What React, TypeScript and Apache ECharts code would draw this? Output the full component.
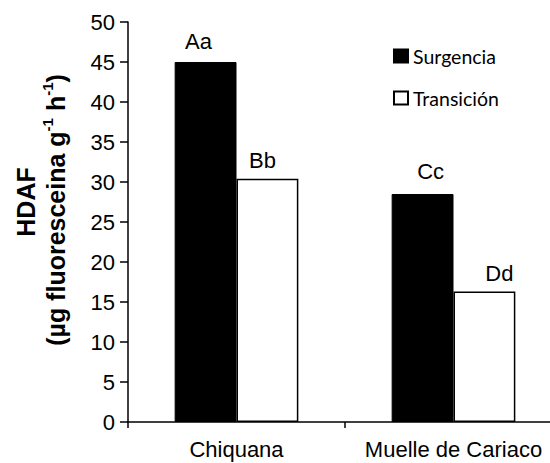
import React, { useEffect, useRef } from "react";
import * as echarts from "echarts";

const categories = ["Chiquana", "Muelle de Cariaco"];
const surgencia = [45, 28.5];
const transicion = [30.4, 16.3];
const surgenciaLabels = ["Aa", "Cc"];
const transicionLabels = ["Bb", "Dd"];
const yTicks = { min: 0, max: 50, interval: 5 };

export default function App() {
  const ref = useRef<HTMLDivElement>(null);
  useEffect(() => {
    if (!ref.current) return;
    const chart = echarts.init(ref.current, null, { renderer: "svg" });
    const labelFont = { fontFamily: "Liberation Sans", fontSize: 22, color: "#000" };
    const sOff = [[-7, -5], [8, -6.5]];
    const tOff = [[-5, -2.3], [15, -2]];
    chart.setOption({
      animation: false,
      grid: { left: 128, top: 22, bottom: 41, right: -12, outerBoundsMode: "none", containLabel: false },
      legend: {
        orient: "vertical",
        left: 393,
        top: 46,
        padding: 0,
        itemWidth: 14,
        itemHeight: 13,
        itemGap: 22,
        icon: "rect",
        textStyle: { fontFamily: "Lato", fontSize: 19.5, color: "#000", lineHeight: 18 },
        data: ["Surgencia", "Transición"],
      },
      xAxis: {
        type: "category",
        data: categories,
        axisLine: { lineStyle: { color: "#000", width: 1.5 } },
        axisTick: { show: true, interval: 0, length: 6, lineStyle: { color: "#000", width: 1.5 } },
        axisLabel: { ...labelFont, interval: 0, hideOverlap: false, margin: 16 },
      },
      yAxis: {
        type: "value",
        min: yTicks.min,
        max: yTicks.max,
        interval: yTicks.interval,
        splitLine: { show: false },
        axisLine: { show: true, lineStyle: { color: "#000", width: 1.5 } },
        axisTick: { show: true, length: 8, lineStyle: { color: "#000", width: 1.5 } },
        axisLabel: { ...labelFont, margin: 13 },
      },
      series: [
        {
          name: "Surgencia",
          type: "bar",
          barGap: "0%",
          barCategoryGap: "43%",
          itemStyle: { color: "#000", borderColor: "#000", borderWidth: 1 },
          data: surgencia.map((v, i) => ({
            value: v,
            label: { show: true, position: "top", distance: 5, formatter: surgenciaLabels[i], offset: sOff[i], ...labelFont },
          })),
        },
        {
          name: "Transición",
          type: "bar",
          itemStyle: { color: "#fff", borderColor: "#000", borderWidth: 1.5 },
          data: transicion.map((v, i) => ({
            value: v,
            label: { show: true, position: "top", distance: 5, formatter: transicionLabels[i], offset: tOff[i], ...labelFont },
          })),
        },
      ],
      graphic: [
        {
          type: "text",
          x: 26,
          y: 202,
          rotation: Math.PI / 2,
          style: {
            text: "HDAF",
            fontFamily: "Liberation Sans",
            fontWeight: "bold",
            fontSize: 25,
            fill: "#000",
            align: "center",
            verticalAlign: "middle",
          },
        },
        {
          type: "text",
          x: 54,
          y: 210,
          rotation: Math.PI / 2,
          style: {
            text: "{b|(µg fluoresceina g}{s|-1}{b| h}{s|-1}{b|)}",
            align: "center",
            verticalAlign: "middle",
            fill: "#000",
            rich: {
              b: { fontFamily: "Liberation Sans", fontWeight: "bold", fontSize: 25, lineHeight: 28, verticalAlign: "bottom", fill: "#000" },
              s: { fontFamily: "Liberation Sans", fontWeight: "bold", fontSize: 15, lineHeight: 28, verticalAlign: "top", padding: [0, 0, 8, 0], fill: "#000" },
            },
          },
        },
      ],
    });
    return () => chart.dispose();
  }, []);
  return <div ref={ref} style={{ position: "absolute", left: 0, top: 0, width: 550, height: 463 }} />;
}
